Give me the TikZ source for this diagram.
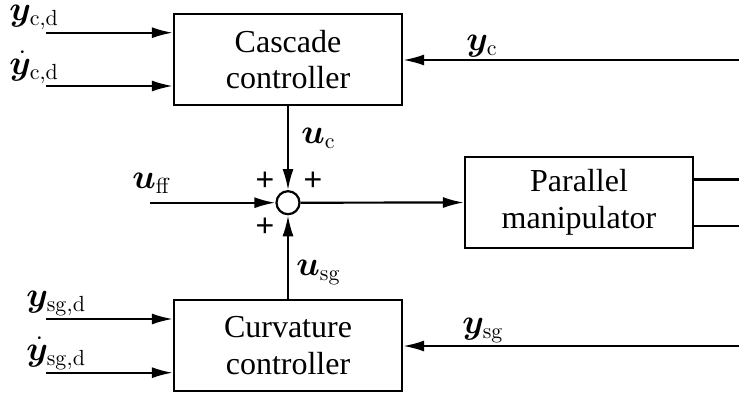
\documentclass[tikz,border=0pt]{standalone}
\usepackage{amsmath,bm}
\usepackage[no-math]{fontspec}
\setmainfont{Liberation Serif}
\newfontfamily\plusfont{Liberation Sans}
\usetikzlibrary{arrows.meta}

\begin{document}
\begin{tikzpicture}[x=0.5pt,y=-0.5pt,
  every node/.style={font=\fontsize{16}{18.3}\selectfont},
  block/.style={draw, line width=1.1pt, minimum width=114pt, minimum height=45.5pt,
                align=center, inner sep=0pt},
  sumnode/.style={draw, circle, line width=1.1pt, minimum size=11.5pt, inner sep=0pt},
  sig/.style={line width=1.1pt, -{Latex[length=10.5pt,width=5.5pt]}},
  wire/.style={line width=1.1pt},
  lbl/.style={anchor=base west, inner sep=0pt},
  sgn/.style={font=\plusfont\fontsize{16}{18}\selectfont, inner sep=0pt}]

\useasboundingbox (0,0) rectangle (739,396);

% blocks
\node[block] (casc) at (288,59.5) {Cascade\\controller};
\node[block] (curv) at (288,345.5) {Curvature\\controller};
\node[block] (par) at (579,202.5) {Parallel\\manipulator};
\node[sumnode] (sum) at (288,202.7) {};

% reference inputs
\coordinate (in1) at (46,32.7);
\coordinate (in2) at (46,86);
\coordinate (in3) at (46,319);
\coordinate (in4) at (46,372.7);
\draw[sig] (in1) -- (in1 -| casc.west);
\draw[sig] (in2) -- (in2 -| casc.west);
\draw[sig] (in3) -- (in3 -| curv.west);
\draw[sig] (in4) -- (in4 -| curv.west);

% summing junction
\coordinate (ff) at (150,202.7);
\draw[sig] (ff) -- (sum.west);
\draw[sig] (casc.south) -- (sum.north);
\draw[sig] (curv.north) -- (sum.south);
\draw[sig] (sum.east) -- (par.west);

% feedback signals
\coordinate (yc) at (739,60);
\coordinate (ysg) at (739,346);
\draw[sig] (yc) -- (yc -| casc.east);
\draw[sig] (ysg) -- (ysg -| curv.east);

% plant outputs
\coordinate (o1) at (739,179.5);
\coordinate (o2) at (739,225.7);
\draw[wire] (o1 -| par.east) -- (o1);
\draw[wire] (o2 -| par.east) -- (o2);

% signal labels
\node[lbl] (lycd) at (9,20.5) {$\bm{y}_{\mathrm{c,d}}$};
\node[lbl] (ldycd) at (9,74) {$\dot{\bm{y}}_{\mathrm{c,d}}$};
\node[lbl] (lysgd) at (26,306.7) {$\bm{y}_{\mathrm{sg,d}}$};
\node[lbl] (ldysgd) at (26,360) {$\dot{\bm{y}}_{\mathrm{sg,d}}$};
\node[lbl] (luff) at (132,188) {$\bm{u}_{\mathrm{ff}}$};
\node[lbl] (luc) at (301,143) {$\bm{u}_{\mathrm{c}}$};
\node[lbl] (lusg) at (296,275) {$\bm{u}_{\mathrm{sg}}$};
\node[lbl] (lyc) at (466,50) {$\bm{y}_{\mathrm{c}}$};
\node[lbl] (lysg) at (462,333) {$\bm{y}_{\mathrm{sg}}$};

% signs at the junction
\node[sgn] (p1) at (265,181.7) {+};
\node[sgn] (p2) at (313,181.7) {+};
\node[sgn] (p3) at (265,227.3) {+};
\end{tikzpicture}
\end{document}
